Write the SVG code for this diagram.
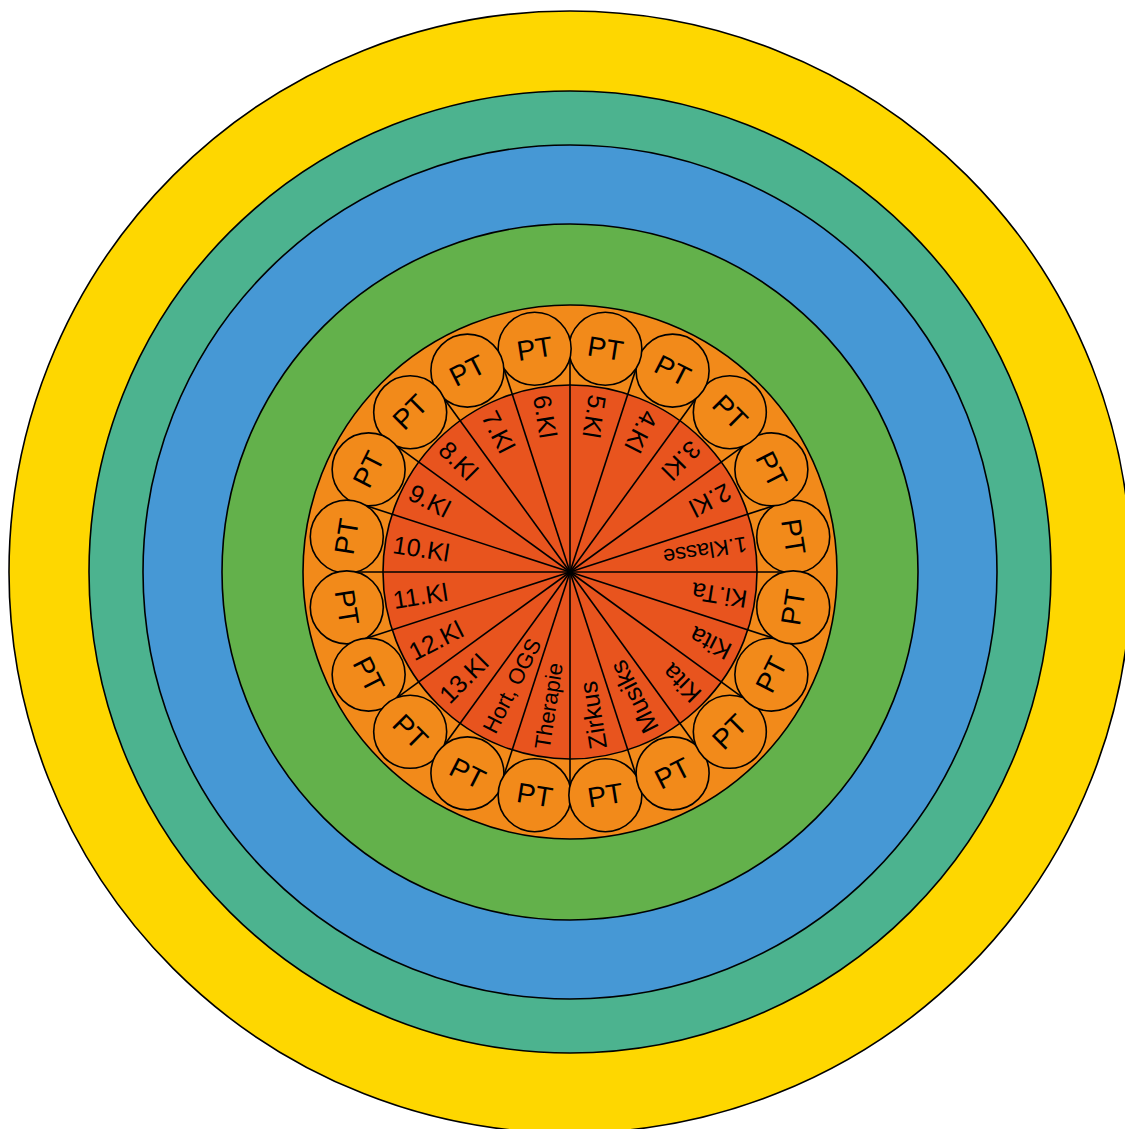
<svg xmlns="http://www.w3.org/2000/svg" width="1125" height="1129" viewBox="0 0 1125 1129">
<style>
.ring{stroke:#000;stroke-width:1.6}
.spoke{stroke:#000;stroke-width:1.6}
.pt circle{fill:#F28A1A;stroke:#000;stroke-width:1.6}
.pt text{font-family:"Liberation Sans","DejaVu Sans",sans-serif;font-size:28px;fill:#000;text-anchor:middle;dominant-baseline:central}
.lbl{font-family:"Liberation Sans","DejaVu Sans",sans-serif;font-size:25px;fill:#000;text-anchor:start;dominant-baseline:central}
.lbl.long{font-size:22px}
</style>
<rect width="1125" height="1129" fill="#fff"/>
<g id="ring-yellow"><circle class="ring" cx="570" cy="572" r="561" fill="#FED700"/></g>
<g id="ring-teal"><circle class="ring" cx="570" cy="572" r="481" fill="#4CB38F"/></g>
<g id="ring-blue"><circle class="ring" cx="570" cy="572" r="427" fill="#4698D5"/></g>
<g id="ring-green"><circle class="ring" cx="570" cy="572" r="348" fill="#63B14B"/></g>
<g id="ring-orange"><circle class="ring" cx="570" cy="572" r="267" fill="#F28A1A"/></g>
<g id="ring-inner"><circle class="ring" cx="570" cy="572" r="187" fill="#E8541E"/></g>
<g id="spokes">
<line class="spoke" x1="570" y1="572" x2="793" y2="572" transform="rotate(0 570 572)"/>
<line class="spoke" x1="570" y1="572" x2="793" y2="572" transform="rotate(-18 570 572)"/>
<line class="spoke" x1="570" y1="572" x2="793" y2="572" transform="rotate(-36 570 572)"/>
<line class="spoke" x1="570" y1="572" x2="793" y2="572" transform="rotate(-54 570 572)"/>
<line class="spoke" x1="570" y1="572" x2="793" y2="572" transform="rotate(-72 570 572)"/>
<line class="spoke" x1="570" y1="572" x2="793" y2="572" transform="rotate(-90 570 572)"/>
<line class="spoke" x1="570" y1="572" x2="793" y2="572" transform="rotate(-108 570 572)"/>
<line class="spoke" x1="570" y1="572" x2="793" y2="572" transform="rotate(-126 570 572)"/>
<line class="spoke" x1="570" y1="572" x2="793" y2="572" transform="rotate(-144 570 572)"/>
<line class="spoke" x1="570" y1="572" x2="793" y2="572" transform="rotate(-162 570 572)"/>
<line class="spoke" x1="570" y1="572" x2="793" y2="572" transform="rotate(-180 570 572)"/>
<line class="spoke" x1="570" y1="572" x2="793" y2="572" transform="rotate(-198 570 572)"/>
<line class="spoke" x1="570" y1="572" x2="793" y2="572" transform="rotate(-216 570 572)"/>
<line class="spoke" x1="570" y1="572" x2="793" y2="572" transform="rotate(-234 570 572)"/>
<line class="spoke" x1="570" y1="572" x2="793" y2="572" transform="rotate(-252 570 572)"/>
<line class="spoke" x1="570" y1="572" x2="793" y2="572" transform="rotate(-270 570 572)"/>
<line class="spoke" x1="570" y1="572" x2="793" y2="572" transform="rotate(-288 570 572)"/>
<line class="spoke" x1="570" y1="572" x2="793" y2="572" transform="rotate(-306 570 572)"/>
<line class="spoke" x1="570" y1="572" x2="793" y2="572" transform="rotate(-324 570 572)"/>
<line class="spoke" x1="570" y1="572" x2="793" y2="572" transform="rotate(-342 570 572)"/>
</g>
<g id="sector-labels">
<text class="lbl long" x="391" y="572" transform="rotate(171 570 572)">1.Klasse</text>
<text class="lbl" x="391" y="572" transform="rotate(153 570 572)">2.Kl</text>
<text class="lbl" x="391" y="572" transform="rotate(135 570 572)">3.Kl</text>
<text class="lbl" x="391" y="572" transform="rotate(117 570 572)">4.Kl</text>
<text class="lbl" x="391" y="572" transform="rotate(99 570 572)">5.Kl</text>
<text class="lbl" x="391" y="572" transform="rotate(81 570 572)">6.Kl</text>
<text class="lbl" x="391" y="572" transform="rotate(63 570 572)">7.Kl</text>
<text class="lbl" x="391" y="572" transform="rotate(45 570 572)">8.Kl</text>
<text class="lbl" x="391" y="572" transform="rotate(27 570 572)">9.Kl</text>
<text class="lbl" x="391" y="572" transform="rotate(9 570 572)">10.Kl</text>
<text class="lbl" x="391" y="572" transform="rotate(-9 570 572)">11.Kl</text>
<text class="lbl" x="391" y="572" transform="rotate(-27 570 572)">12.Kl</text>
<text class="lbl" x="391" y="572" transform="rotate(-45 570 572)">13.Kl</text>
<text class="lbl long" x="391" y="572" transform="rotate(-63 570 572)">Hort, OGS</text>
<text class="lbl long" x="391" y="572" transform="rotate(-81 570 572)">Therapie</text>
<text class="lbl" x="391" y="572" transform="rotate(-99 570 572)">Zirkus</text>
<text class="lbl" x="391" y="572" transform="rotate(-117 570 572)">Musiks</text>
<text class="lbl" x="391" y="572" transform="rotate(-135 570 572)">Kita</text>
<text class="lbl" x="391" y="572" transform="rotate(-153 570 572)">Kita</text>
<text class="lbl" x="391" y="572" transform="rotate(-171 570 572)">Ki.Ta</text>
</g>
<g id="pt-01" class="pt"><circle cx="793.22" cy="536.65" r="36.5"/><text x="793.22" y="536.65" transform="rotate(81 793.22 536.65)">PT</text></g>
<g id="pt-02" class="pt"><circle cx="771.37" cy="469.40" r="36.5"/><text x="771.37" y="469.40" transform="rotate(63 771.37 469.40)">PT</text></g>
<g id="pt-03" class="pt"><circle cx="729.81" cy="412.19" r="36.5"/><text x="729.81" y="412.19" transform="rotate(45 729.81 412.19)">PT</text></g>
<g id="pt-04" class="pt"><circle cx="672.60" cy="370.63" r="36.5"/><text x="672.60" y="370.63" transform="rotate(27 672.60 370.63)">PT</text></g>
<g id="pt-05" class="pt"><circle cx="605.35" cy="348.78" r="36.5"/><text x="605.35" y="348.78" transform="rotate(9 605.35 348.78)">PT</text></g>
<g id="pt-06" class="pt"><circle cx="534.65" cy="348.78" r="36.5"/><text x="534.65" y="348.78" transform="rotate(-9 534.65 348.78)">PT</text></g>
<g id="pt-07" class="pt"><circle cx="467.40" cy="370.63" r="36.5"/><text x="467.40" y="370.63" transform="rotate(-27 467.40 370.63)">PT</text></g>
<g id="pt-08" class="pt"><circle cx="410.19" cy="412.19" r="36.5"/><text x="410.19" y="412.19" transform="rotate(-45 410.19 412.19)">PT</text></g>
<g id="pt-09" class="pt"><circle cx="368.63" cy="469.40" r="36.5"/><text x="368.63" y="469.40" transform="rotate(-63 368.63 469.40)">PT</text></g>
<g id="pt-10" class="pt"><circle cx="346.78" cy="536.65" r="36.5"/><text x="346.78" y="536.65" transform="rotate(-81 346.78 536.65)">PT</text></g>
<g id="pt-11" class="pt"><circle cx="346.78" cy="607.35" r="36.5"/><text x="346.78" y="607.35" transform="rotate(81 346.78 607.35)">PT</text></g>
<g id="pt-12" class="pt"><circle cx="368.63" cy="674.60" r="36.5"/><text x="368.63" y="674.60" transform="rotate(63 368.63 674.60)">PT</text></g>
<g id="pt-13" class="pt"><circle cx="410.19" cy="731.81" r="36.5"/><text x="410.19" y="731.81" transform="rotate(45 410.19 731.81)">PT</text></g>
<g id="pt-14" class="pt"><circle cx="467.40" cy="773.37" r="36.5"/><text x="467.40" y="773.37" transform="rotate(27 467.40 773.37)">PT</text></g>
<g id="pt-15" class="pt"><circle cx="534.65" cy="795.22" r="36.5"/><text x="534.65" y="795.22" transform="rotate(9 534.65 795.22)">PT</text></g>
<g id="pt-16" class="pt"><circle cx="605.35" cy="795.22" r="36.5"/><text x="605.35" y="795.22" transform="rotate(-9 605.35 795.22)">PT</text></g>
<g id="pt-17" class="pt"><circle cx="672.60" cy="773.37" r="36.5"/><text x="672.60" y="773.37" transform="rotate(-27 672.60 773.37)">PT</text></g>
<g id="pt-18" class="pt"><circle cx="729.81" cy="731.81" r="36.5"/><text x="729.81" y="731.81" transform="rotate(-45 729.81 731.81)">PT</text></g>
<g id="pt-19" class="pt"><circle cx="771.37" cy="674.60" r="36.5"/><text x="771.37" y="674.60" transform="rotate(-63 771.37 674.60)">PT</text></g>
<g id="pt-20" class="pt"><circle cx="793.22" cy="607.35" r="36.5"/><text x="793.22" y="607.35" transform="rotate(-81 793.22 607.35)">PT</text></g>
</svg>
